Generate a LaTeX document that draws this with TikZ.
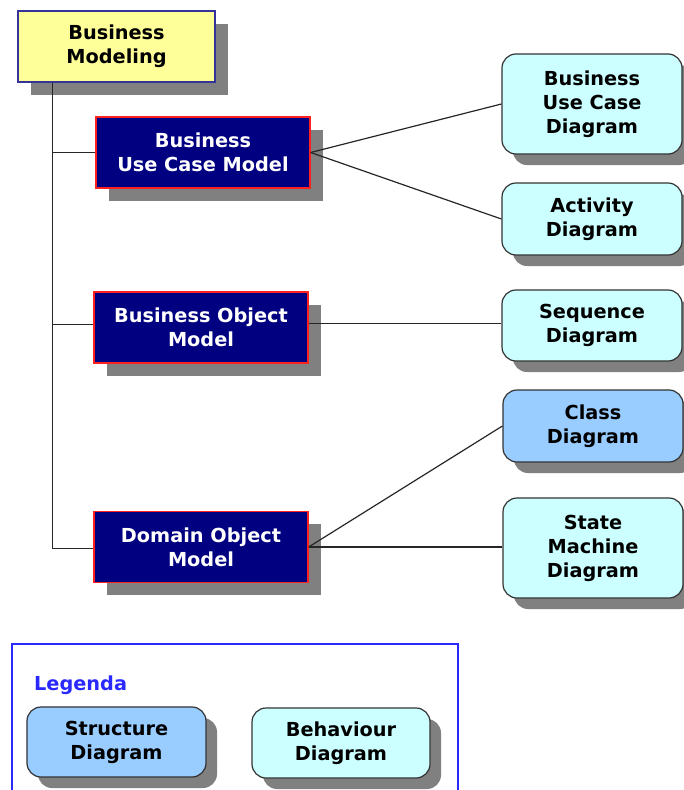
\documentclass[tikz,border=0pt]{standalone}
\usepackage{fontspec}
\setmainfont{DejaVu Sans}
\usetikzlibrary{shadows}
\definecolor{modelfill}{HTML}{000080}
\definecolor{modelline}{HTML}{FF2020}
\definecolor{bizfill}{HTML}{FFFF99}
\definecolor{bizline}{HTML}{333399}
\definecolor{behfill}{HTML}{CCFFFF}
\definecolor{strfill}{HTML}{99CCFF}
\definecolor{diagline}{HTML}{333333}
\definecolor{shadowgray}{HTML}{808080}
\definecolor{legendblue}{HTML}{2828FF}
\begin{document}
\begin{tikzpicture}[x=1pt,y=-1pt,
  lbl/.style={font=\bfseries\fontsize{19.3}{24}\selectfont, align=center, inner sep=0pt},
  sqshadow/.style={drop shadow={shadow xshift=12.5pt, shadow yshift=-12.5pt, fill=shadowgray, opacity=1}},
  rdshadow/.style={drop shadow={shadow xshift=11pt, shadow yshift=-11pt, fill=shadowgray, opacity=1}},
  bizbox/.style={lbl, draw=bizline, line width=1.3pt, fill=bizfill, sqshadow},
  modelbox/.style={lbl, draw=modelline, line width=1.3pt, fill=modelfill, text=white, sqshadow},
  diagbox/.style={lbl, draw=diagline, line width=1.2pt, rounded corners=14pt, rdshadow},
  behbox/.style={diagbox, fill=behfill},
  strbox/.style={diagbox, fill=strfill},
  link/.style={draw=black!85, line width=1.2pt}]
\useasboundingbox (0,0) rectangle (684,790);

% legend frame
\draw[legendblue, line width=1.1pt] (12,644) rectangle (458,800);
\node[lbl, text=legendblue, anchor=base west] (legtitle) at (34,690) {Legenda};

% business modeling tree
\node[bizbox, minimum width=197pt, minimum height=71pt] (bm) at (116.5,46.5) {Business\\Modeling};
\node[modelbox, minimum width=214pt, minimum height=71pt] (bucm) at (203,152.5) {Business\\Use Case Model};
\node[modelbox, minimum width=214pt, minimum height=71pt] (bom) at (201,327.5) {Business Object\\Model};
\node[modelbox, minimum width=214pt, minimum height=71pt] (dom) at (201,547) {Domain Object\\Model};

% diagrams
\node[behbox, minimum width=180pt, minimum height=100pt] (bucd) at (592,104) {Business\\Use Case\\Diagram};
\node[behbox, minimum width=180pt, minimum height=72pt] (act) at (592,219) {Activity\\Diagram};
\node[behbox, minimum width=180pt, minimum height=71pt] (seq) at (592,325.5) {Sequence\\Diagram};
\node[strbox, minimum width=180pt, minimum height=72pt] (cls) at (593,426) {Class\\Diagram};
\node[behbox, minimum width=180pt, minimum height=100pt] (stm) at (593,548) {State\\Machine\\Diagram};

% legend entries
\node[strbox, minimum width=179pt, minimum height=70pt] (legstr) at (116.5,742) {Structure\\Diagram};
\node[behbox, minimum width=178pt, minimum height=70pt] (legbeh) at (341,743) {Behaviour\\Diagram};

% trunk and branches
\coordinate (trunk) at (52.5,548.5);
\draw[link] (bm.south -| trunk) -- (trunk) -- (trunk -| dom.west);
\draw[link] (bucm.west -| trunk) -- (bucm.west);
\draw[link] ([yshift=3pt]bom.west -| trunk) -- ([yshift=3pt]bom.west);

% model to diagram connectors
\draw[link] (bucm.east) -- (bucd.west);
\draw[link] (bucm.east) -- (act.west);
\draw[link] ([yshift=4pt]bom.east) -- ([yshift=2pt]seq.west);
\draw[link] (dom.east) -- (cls.west);
\draw[link] (dom.east) -- (dom.east -| stm.west);
\end{tikzpicture}
\end{document}
